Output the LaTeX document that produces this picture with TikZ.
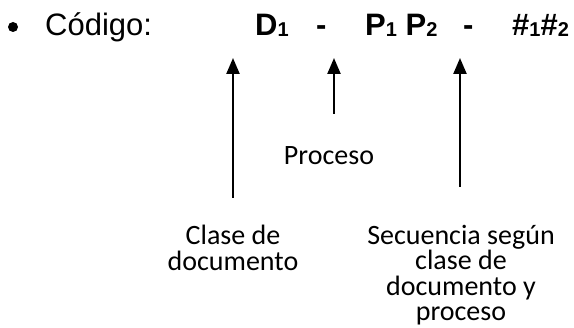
\documentclass[tikz,border=0pt]{standalone}
\usepackage{fontspec}
\setmainfont{Liberation Sans}
\newfontfamily\calfont{Carlito}
\usetikzlibrary{arrows.meta}
\newcommand\lowsub[1]{\raisebox{-1pt}{\fontsize{20}{20}\selectfont #1}}
\tikzset{
  codetxt/.style={inner sep=0pt, anchor=base west, font=\fontsize{31}{31}\selectfont},
  codebold/.style={codetxt, font=\fontsize{31}{31}\selectfont\bfseries},
  lbl/.style={inner sep=0pt, anchor=north, align=center, font=\calfont\fontsize{28}{25.5}\selectfont},
  pointer/.style={line width=2.3pt, -{Triangle[width=13pt,length=16pt]}}
}
\begin{document}
\begin{tikzpicture}[x=1pt,y=-1pt]
\useasboundingbox (0,0) rectangle (574,328);
\fill (13,27) circle (5);
\node[codetxt] (codigo) at (45,36) {Código:};
\node[codebold] (d1) at (255,36) {D\lowsub{1}};
\node[codebold] (dash1) at (316,36) {-};
\node[codebold] (p1p2) at (365,36) {P\lowsub{1} P\lowsub{2}};
\node[codebold] (dash2) at (463,36) {-};
\node[codebold] (nums) at (512,36) {\#\lowsub{1}\#\lowsub{2}};
\coordinate (tipA) at (233,58);
\coordinate (tipB) at (334,58);
\coordinate (tipC) at (460,58);
\coordinate (endA) at (233,198);
\coordinate (endB) at (334,114);
\coordinate (endC) at (460,187);
\node[lbl] (proceso) at (329,146) {Proceso};
\node[lbl] (clase) at (233,225) {Clase de\\documento};
\node[lbl] (secuencia) at (461,225) {Secuencia según\\clase de\\documento y\\proceso};
\draw[pointer] (endA) -- (tipA);
\draw[pointer] (endB) -- (tipB);
\draw[pointer] (endC) -- (tipC);
\end{tikzpicture}
\end{document}
